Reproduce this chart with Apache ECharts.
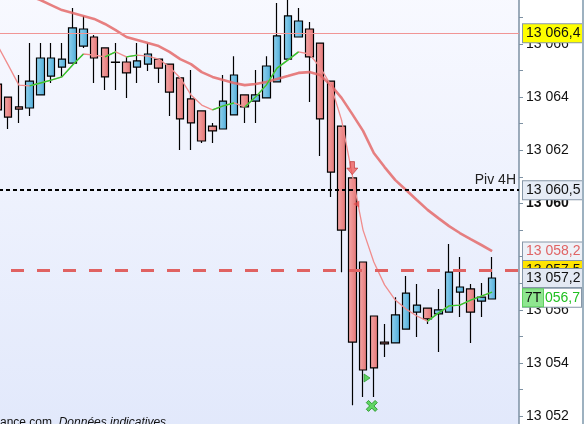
<!DOCTYPE html>
<html><head><meta charset="utf-8">
<script src="https://cdn.jsdelivr.net/npm/echarts/dist/echarts.min.js"></script>
<style>html,body{margin:0;padding:0;background:#fff;overflow:hidden}#c{width:585px;height:424px}</style>
</head><body><div id="c"></div>
<script>
// ---- data ----
const categories = ['c0','c1','c2','c3','c4','c5','c6','c7','c8','c9','c10','c11','c12','c13','c14','c15','c16','c17','c18','c19','c20','c21','c22','c23','c24','c25','c26','c27','c28','c29','c30','c31','c32','c33','c34','c35','c36','c37','c38','c39','c40','c41','c42','c43','c44','c45','c46','c47','c48'];
// [open, close, low, high]
const ohlc = [
[13064.49,13063.52,13063.21,13064.49],
[13064.00,13063.25,13062.80,13064.00],
[13063.63,13063.55,13063.03,13064.83],
[13063.59,13064.60,13063.29,13066.03],
[13064.08,13065.47,13064.08,13066.03],
[13064.79,13065.47,13064.53,13066.03],
[13065.13,13065.43,13064.76,13066.03],
[13065.28,13066.60,13065.28,13067.35],
[13065.92,13066.56,13065.85,13067.05],
[13066.26,13065.47,13064.53,13066.33],
[13065.85,13064.76,13064.27,13065.85],
[13065.32,13065.30,13064.27,13066.03],
[13065.32,13064.91,13063.97,13065.51],
[13065.13,13065.36,13064.53,13066.03],
[13065.24,13065.62,13064.98,13066.03],
[13065.43,13065.09,13064.53,13065.43],
[13065.24,13064.19,13063.29,13065.24],
[13064.72,13063.18,13062.01,13064.72],
[13063.93,13063.03,13062.01,13065.02],
[13063.48,13062.35,13062.27,13063.48],
[13062.91,13062.73,13062.27,13063.03],
[13062.80,13063.85,13062.80,13064.83],
[13063.33,13064.83,13063.33,13065.54],
[13064.08,13063.63,13063.03,13064.08],
[13063.85,13064.08,13063.03,13065.02],
[13063.97,13065.17,13063.97,13065.54],
[13064.57,13066.30,13064.57,13067.54],
[13065.43,13067.05,13065.43,13067.75],
[13066.26,13066.86,13066.26,13067.35],
[13066.56,13065.51,13063.82,13066.82],
[13066.03,13063.18,13061.79,13066.03],
[13064.60,13061.18,13060.24,13064.60],
[13062.91,13059.00,13057.42,13062.91],
[13060.96,13054.79,13052.42,13060.96],
[13057.80,13053.74,13052.73,13057.80],
[13055.77,13053.82,13052.73,13055.77],
[13054.79,13054.72,13054.23,13055.47],
[13054.76,13055.81,13054.76,13056.48],
[13055.28,13056.63,13055.28,13057.27],
[13055.92,13056.18,13054.98,13056.97],
[13056.07,13055.66,13055.47,13056.07],
[13055.85,13056.00,13054.42,13056.79],
[13055.92,13057.42,13055.92,13058.48],
[13056.67,13056.86,13055.73,13057.99],
[13056.79,13055.92,13054.76,13056.97],
[13056.33,13056.48,13055.73,13057.01],
[13056.41,13057.20,13056.41,13057.99]
];
const maLong = [13068.33,13068.18,13067.99,13067.80,13067.65,13067.46,13067.27,13067.16,13067.05,13066.94,13066.75,13066.52,13066.26,13066.15,13066.03,13065.92,13065.70,13065.43,13065.24,13064.94,13064.76,13064.64,13064.53,13064.45,13064.49,13064.57,13064.68,13064.79,13064.91,13064.94,13064.83,13064.45,13063.97,13063.36,13062.73,13061.90,13061.37,13060.88,13060.51,13060.13,13059.76,13059.45,13059.15,13058.89,13058.66,13058.44,13058.21];
const maShort = [13065.96,13065.21,13064.45,13064.42,13064.53,13064.64,13064.76,13065.21,13065.62,13065.58,13065.51,13065.70,13065.51,13065.58,13065.54,13065.43,13065.13,13064.72,13064.08,13063.70,13063.52,13063.67,13063.78,13063.63,13064.00,13064.45,13065.09,13065.39,13065.70,13065.62,13065.13,13064.45,13063.14,13061.07,13059.00,13057.80,13056.94,13056.37,13056.03,13055.77,13055.58,13055.88,13056.15,13056.18,13056.37,13056.52,13056.67];
const yMin = 13051, yMax = 13068, yStep = 1;
const levelHigh = 13066.4, levelPivot = 13060.5, levelMaLong = 13058.2, levelDash = 13057.5, levelLast = 13057.2, levelMaShort = 13056.7;
const labelHigh = '13 066,4', labelPivot = '13 060,5', pivotName = 'Piv 4H', labelMaLong = '13 058,2', labelDash = '13 057,5', labelLast = '13 057,2', labelMaShortTag = '7T', labelMaShort = '056,7';
const sellArrow = [[33, 13061.33]];
const sellTri = [[33, 13059.98]];
const buyTri = [[34, 13053.44]];
const buyCross = [[35, 13052.39]];
const footerSource = 'ance.com', footerNote = 'Données indicatives';

// ---- chart ----
const FONT = "'Liberation Sans', Arial, sans-serif";
const chart = echarts.init(document.getElementById('c'), null, {renderer:'canvas'});

const greenRuns = [];
let run = null;
for (let i = 1; i < maShort.length; i++) {
  if (maShort[i] > maShort[i-1]) {
    if (!run) { run = new Array(maShort.length).fill(null); run[i-1] = maShort[i-1]; greenRuns.push(run); }
    run[i] = maShort[i];
  } else run = null;
}

function fmtTick(v){ const s = String(v); return s.slice(0,2)+' '+s.slice(2); }

const NOLINE = {color:'rgba(0,0,0,0)', width:0};
const boxBase = {show:true, position:'end', distance:4, fontSize:14, fontFamily:FONT, color:'#111',
  padding:[1,3,1,3], width:53, height:16, lineHeight:17, borderColor:'#8797a8', borderWidth:1, align:'left'};

const series = [
  {type:'candlestick', data: ohlc, barWidth:8, z:2,
   itemStyle:{
     color: new echarts.graphic.LinearGradient(0,0,1,0,[{offset:0,color:'#94d3ef'},{offset:1,color:'#4dacd9'}]),
     color0: new echarts.graphic.LinearGradient(0,0,1,0,[{offset:0,color:'#f5a9a9'},{offset:1,color:'#e47474'}]),
     borderColor:'#000', borderColor0:'#000', borderWidth:1.2}},
  {type:'line', data: maLong, symbol:'none', z:3, lineStyle:{color:'#e46a6a', width:2.6, opacity:0.85}},
  {type:'line', data: maShort, symbol:'none', z:3, lineStyle:{color:'#f08c8c', width:1.3}}
];
greenRuns.forEach(r => series.push({type:'line', data:r, symbol:'none', z:4, connectNulls:false, lineStyle:{color:'#2ecc2e', width:1.4}}));

series.push({type:'line', data:[], z:5, markLine:{silent:true, symbol:['none','none'], animation:false,
  data:[
    {yAxis: levelHigh, lineStyle:{color:'#f19595', width:1, type:'solid'},
      label:Object.assign({}, boxBase, {formatter:labelHigh, backgroundColor:'#ffff00'})},
    {yAxis: levelPivot, lineStyle:{color:'#000', width:2.2, type:[4,3]},
      label:{show:true, position:'insideEndTop', distance:3, formatter:pivotName, fontSize:14, fontFamily:FONT, color:'#222'}},
    {yAxis: levelPivot, lineStyle:NOLINE,
      label:Object.assign({}, boxBase, {formatter:labelPivot, backgroundColor:'#e6ecf6'})},
    {yAxis: levelMaLong, lineStyle:NOLINE,
      label:Object.assign({}, boxBase, {formatter:labelMaLong, color:'#e06464', backgroundColor:'#eef1f7'})},
    {yAxis: levelDash, lineStyle:{color:'#e06262', width:3, type:[13,13], dashOffset:7},
      label:Object.assign({}, boxBase, {formatter:labelDash, backgroundColor:'#ffe400'})},
    {yAxis: levelLast, lineStyle:NOLINE,
      label:Object.assign({}, boxBase, {formatter:labelLast, backgroundColor:'#e3e9f3'})},
    {yAxis: levelMaShort, lineStyle:NOLINE,
      label:{show:true, position:'end', distance:4, offset:[0,6.5], padding:0, borderColor:'#8797a8', borderWidth:1,
        backgroundColor:'#fff', fontFamily:FONT, fontSize:14,
        formatter:'{t|'+labelMaShortTag+'}{v|'+labelMaShort+'}',
        rich:{t:{fontFamily:FONT, fontSize:14, color:'#111', backgroundColor:'#8fe68f', borderColor:'#5fcf5f', borderWidth:1, width:16, height:17, lineHeight:18, padding:[0,2,0,2]},
              v:{fontFamily:FONT, fontSize:14, color:'#22c022', width:36, height:17, lineHeight:18, padding:[0,0,0,2]}}}}
  ]}});

series.push({type:'scatter', data: sellArrow, z:6, symbol:'path://M3,0 L7,0 L7,6 L10,6 L5,12 L0,6 L3,6 Z', symbolSize:[11,13],
  itemStyle:{color:'#ee5d5d', borderColor:'#b83030', borderWidth:0.8}});
series.push({type:'scatter', data: sellTri, z:6, symbol:'triangle', symbolSize:[7,6], symbolRotate:90, symbolOffset:[4,0],
  itemStyle:{color:'#e24c4c'}});
series.push({type:'scatter', data: buyTri, z:6, symbol:'triangle', symbolSize:[8,6], symbolRotate:-90, symbolOffset:[4,0],
  itemStyle:{color:'#3ccc3c', borderColor:'#1c8c1c', borderWidth:0.8}});
series.push({type:'scatter', data: buyCross, z:6, symbol:'path://M2,0 L5,3 L8,0 L10,2 L7,5 L10,8 L8,10 L5,7 L2,10 L0,8 L3,5 L0,2 Z', symbolSize:11, symbolOffset:[-2,0],
  itemStyle:{color:'#3fcf3f', borderColor:'#1a8f1a', borderWidth:1}});

chart.setOption({
  animation:false,
  backgroundColor:'#ffffff',
  grid:{left:-8, right:66, top:-9.3, bottom:-18.9, containLabel:false, outerBoundsMode:'none', show:true, borderWidth:0,
    backgroundColor: new echarts.graphic.LinearGradient(0,0,0,1,[{offset:0,color:'#f8f9ff'},{offset:1,color:'#e1e8fb'}])},
  xAxis:{type:'category', data:categories, boundaryGap:true, show:false},
  yAxis:{type:'value', position:'right', min:yMin, max:yMax, interval:yStep,
    axisLine:{show:true, lineStyle:{color:'#7d91a3', width:1.5}},
    axisTick:{show:true, length:4, lineStyle:{color:'#7d91a3'}},
    splitLine:{show:false},
    axisLabel:{margin:7, color:'#111', fontSize:14, fontFamily:FONT, showMinLabel:true, showMaxLabel:true, hideOverlap:false,
      formatter: v => (v % 2) ? '' : (v === 13060 ? '{b|'+fmtTick(v)+'}' : fmtTick(v)),
      rich:{b:{fontWeight:'bold', fontSize:14, fontFamily:FONT, color:'#111'}}}},
  graphic:[
    {type:'rect', shape:{x:582, y:0, width:2, height:424}, style:{fill:'#9db1c0'}, z:10},
    {type:'text', left:0, top:417, z:10, style:{text:'{n|'+footerSource+'}  {i|'+footerNote+'}',
      rich:{n:{fontSize:12, fontFamily:FONT, fill:'#111'}, i:{fontSize:12, fontFamily:FONT, fontStyle:'italic', fill:'#111'}}}}
  ],
  series: series
});
</script></body></html>
